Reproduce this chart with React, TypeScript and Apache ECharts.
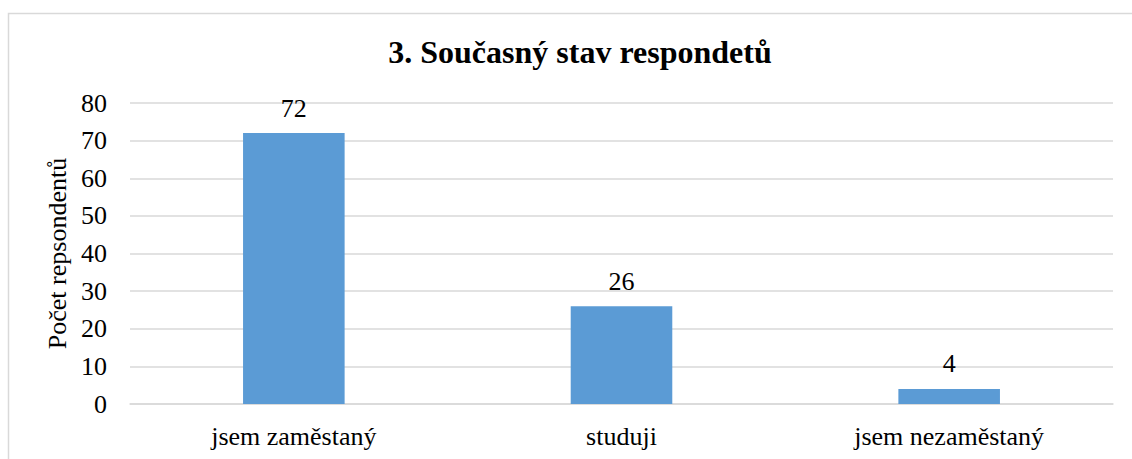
import React, { useEffect, useRef } from "react";
import * as echarts from "echarts";

const titleText = "3. Současný stav respondetů";
const categories = ["jsem zaměstaný", "studuji", "jsem nezaměstaný"];
const values = [72, 26, 4];
const yAxisName = "Počet repsondentů";
const yMin = 0;
const yMax = 80;
const yInterval = 10;

const FONT = "Liberation Serif";

export default function App() {
  const ref = useRef<HTMLDivElement>(null);
  useEffect(() => {
    if (!ref.current) return;
    const chart = echarts.init(ref.current, null, { renderer: "svg" });
    chart.setOption({
      animation: false,
      backgroundColor: "#ffffff",
      textStyle: { fontFamily: FONT },
      title: {
        text: titleText,
        left: 575,
        top: 31,
        textAlign: "center",
        textStyle: { fontFamily: FONT, fontSize: 32, fontWeight: "bold", color: "#000" },
      },
      graphic: [
        {
          type: "rect",
          shape: { x: 8.5, y: 13.5, width: 1140, height: 460 },
          style: { fill: "none", stroke: "#d9d9d9", lineWidth: 1.5 },
          silent: true,
        },
      ],
      grid: { left: 130, right: 19, top: 103, bottom: 55, containLabel: false },
      xAxis: {
        type: "category",
        data: categories,
        axisLine: { show: true, lineStyle: { color: "#d9d9d9", width: 1.5 } },
        axisTick: { show: false },
        axisLabel: { fontFamily: FONT, fontSize: 26, color: "#000", margin: 19 },
      },
      yAxis: {
        type: "value",
        min: yMin,
        max: yMax,
        interval: yInterval,
        name: yAxisName,
        nameLocation: "middle",
        nameRotate: 90,
        nameGap: 54,
        nameTextStyle: { fontFamily: FONT, fontSize: 26, color: "#000" },
        axisLine: { show: false },
        axisTick: { show: false },
        axisLabel: { fontFamily: FONT, fontSize: 26, color: "#000", margin: 23 },
        splitLine: { lineStyle: { color: "#d9d9d9", width: 1.5 } },
      },
      series: [
        {
          type: "bar",
          data: values,
          barWidth: "31%",
          itemStyle: { color: "#5b9bd5" },
          label: {
            show: true,
            position: "top",
            distance: 12,
            fontFamily: FONT,
            fontSize: 26,
            color: "#000",
          },
        },
      ],
    });
    return () => chart.dispose();
  }, []);
  return (
    <div
      ref={ref}
      style={{ position: "absolute", left: 0, top: 0, width: 1132, height: 459 }}
    />
  );
}
